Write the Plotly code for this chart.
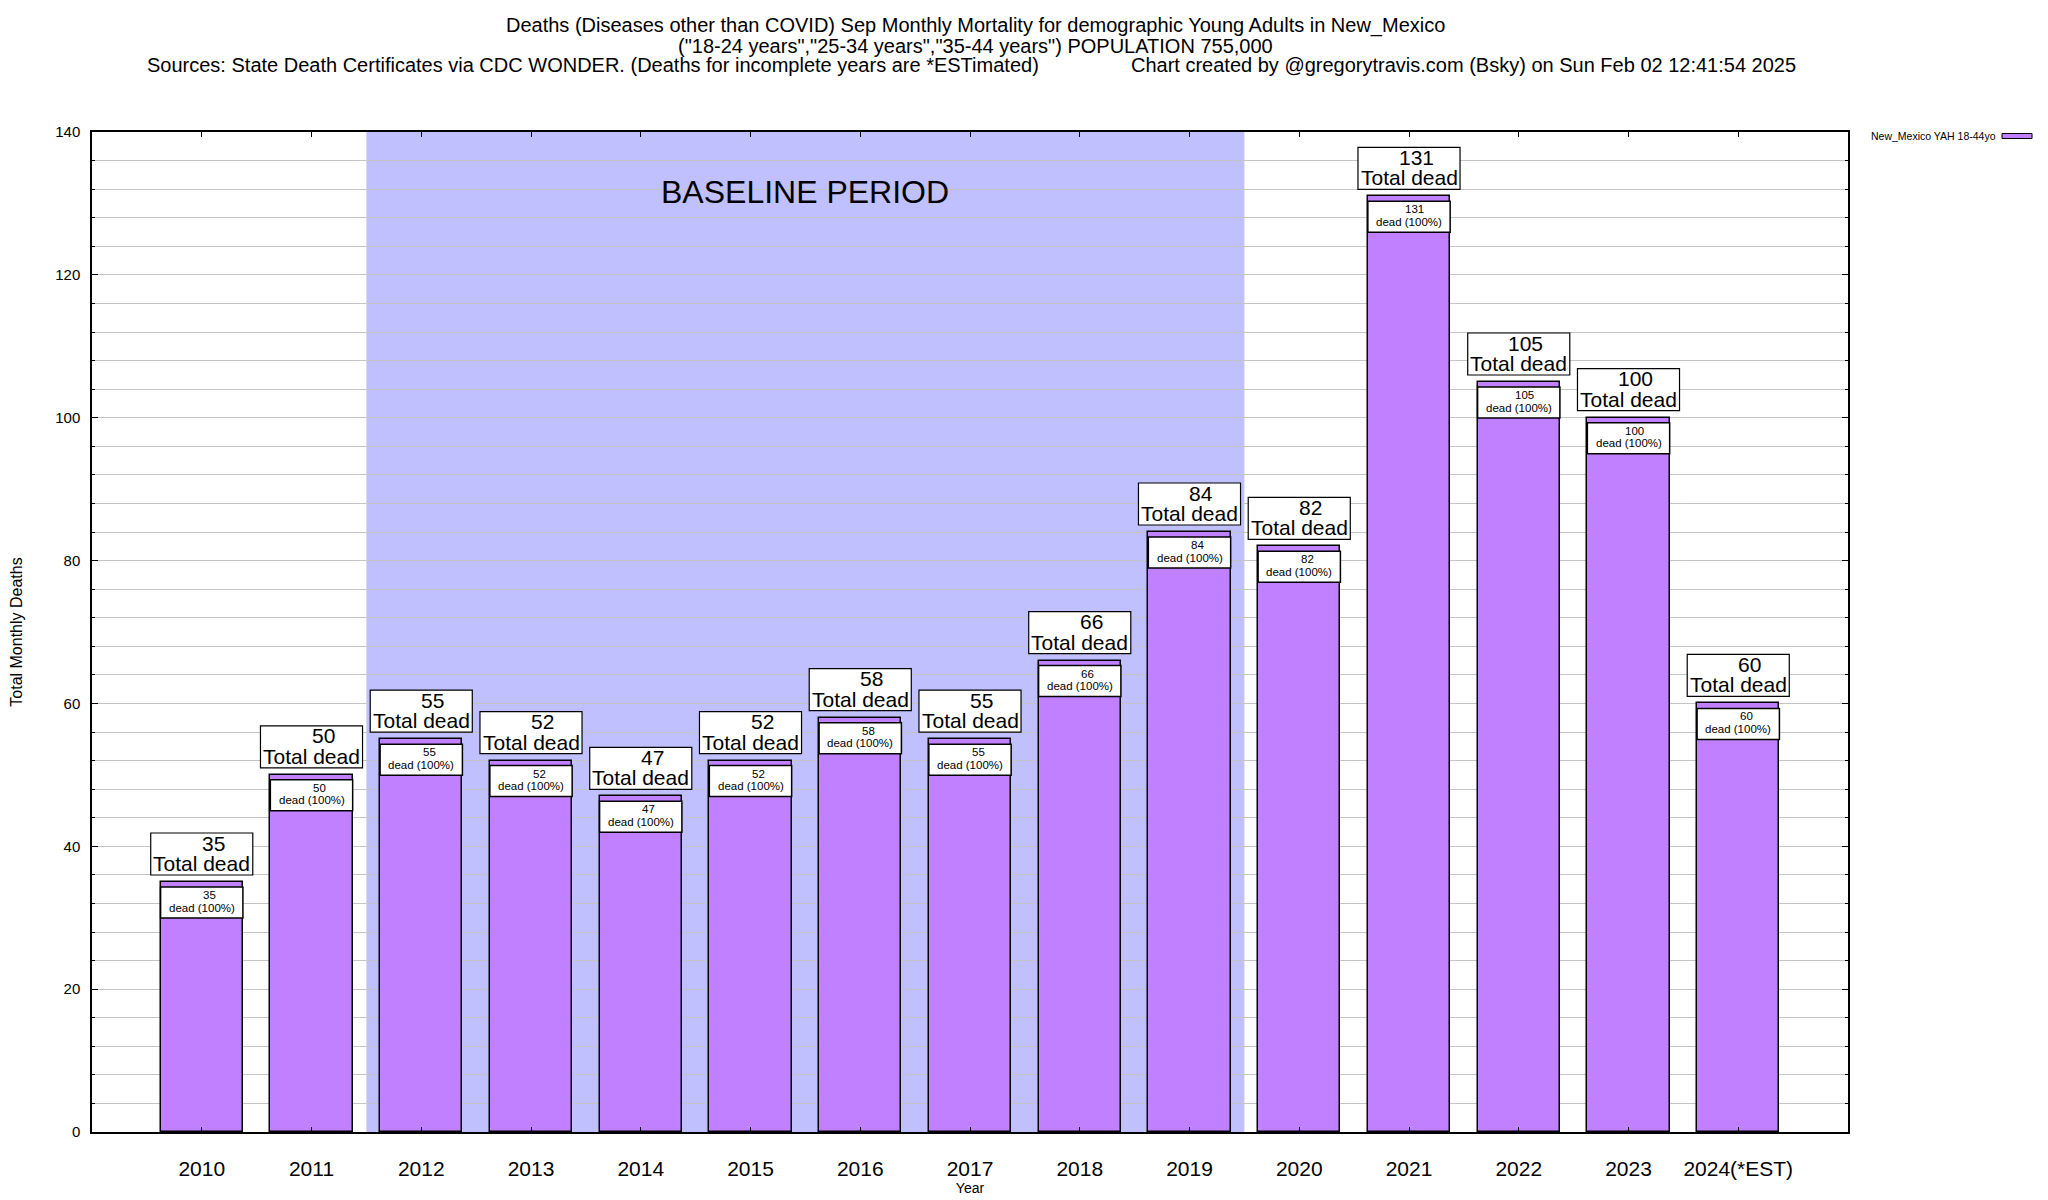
import plotly.graph_objects as go

# ---------------- data ----------------
years = [2010, 2011, 2012, 2013, 2014, 2015, 2016, 2017, 2018, 2019, 2020, 2021, 2022, 2023, 2024]
year_labels = ["2010", "2011", "2012", "2013", "2014", "2015", "2016", "2017", "2018", "2019",
               "2020", "2021", "2022", "2023", "2024(*EST)"]
deaths = [35, 50, 55, 52, 47, 52, 58, 55, 66, 84, 82, 131, 105, 100, 60]
series_name = "New_Mexico YAH 18-44yo"
baseline_start, baseline_end = 2011.5, 2019.5
y_ticks = [0, 20, 40, 60, 80, 100, 120, 140]

title_lines = [
    "Deaths (Diseases other than COVID) Sep Monthly Mortality for demographic Young Adults in New_Mexico",
    "(\"18-24 years\",\"25-34 years\",\"35-44 years\") POPULATION 755,000",
]
source_left = "Sources: State Death Certificates via CDC WONDER. (Deaths for incomplete years are *ESTimated)"
source_right = "Chart created by @gregorytravis.com (Bsky) on Sun Feb 02 12:41:54 2025"

# ---------------- style ----------------
FONT = "Liberation Sans, Arial, Helvetica, sans-serif"
BAR_COLOR = "#c080ff"
BASE_COLOR = "#c0c0ff"
GRID = "#c4c4c4"
BAR_W = 0.75

fig = go.Figure()
fig.add_trace(go.Bar(
    x=years, y=deaths, width=BAR_W, name=series_name,
    marker=dict(color=BAR_COLOR, line=dict(color="black", width=1.5)),
    showlegend=False, hoverinfo="x+y",
))

shapes = []
annotations = []

# baseline shading
shapes.append(dict(type="rect", xref="x", yref="paper", x0=baseline_start, x1=baseline_end,
                   y0=0, y1=1, fillcolor=BASE_COLOR, line=dict(width=0), layer="below"))
annotations.append(dict(text="BASELINE PERIOD", x=(baseline_start + baseline_end) / 2, y=131.6,
                        xref="x", yref="y", showarrow=False, font=dict(size=32, color="black", family=FONT)))

for yr, v in zip(years, deaths):
    pct = round(100 * v / v)
    nd = len(str(v))
    # big "Total dead" box above bar
    shapes.append(dict(type="rect", xref="x", yref="y", x0=yr - 0.465, x1=yr + 0.465,
                       ysizemode="pixel", yanchor=v, y0=7, y1=49,
                       fillcolor="white", line=dict(color="black", width=1.2), layer="above"))
    annotations.append(dict(text=str(v), x=yr, y=v, xref="x", yref="y", yanchor="middle",
                            yshift=39, xshift=7 + (3 - nd) * 4.5, showarrow=False,
                            font=dict(size=21, color="black", family=FONT)))
    annotations.append(dict(text="Total dead", x=yr, y=v, xref="x", yref="y", yanchor="middle",
                            yshift=18.5, showarrow=False, font=dict(size=21, color="black", family=FONT)))
    # small box inside bar
    shapes.append(dict(type="rect", xref="x", yref="y", x0=yr - BAR_W / 2, x1=yr + BAR_W / 2,
                       ysizemode="pixel", yanchor=v, y0=-5, y1=-36,
                       fillcolor="white", line=dict(color="black", width=1.5), layer="above"))
    annotations.append(dict(text=str(v), x=yr, y=v, xref="x", yref="y", yanchor="middle",
                            yshift=-13, xshift=5.5 + (3 - nd) * 2.5, showarrow=False,
                            font=dict(size=11.5, color="black", family=FONT)))
    annotations.append(dict(text=f"dead ({pct}%)", x=yr, y=v, xref="x", yref="y", yanchor="middle",
                            yshift=-25.5, showarrow=False, font=dict(size=11.5, color="black", family=FONT)))

# titles
annotations.append(dict(text=title_lines[0], x=0.503, y=1.106, xref="paper", yref="paper",
                        xanchor="center", yanchor="middle", showarrow=False,
                        font=dict(size=20, color="black", family=FONT)))
annotations.append(dict(text=title_lines[1], x=0.503, y=1.086, xref="paper", yref="paper",
                        xanchor="center", yanchor="middle", showarrow=False,
                        font=dict(size=20, color="black", family=FONT)))
annotations.append(dict(text=source_left, x=0.5404, y=1.0675, xref="paper", yref="paper",
                        xanchor="right", yanchor="middle", showarrow=False,
                        font=dict(size=20, color="black", family=FONT)))
annotations.append(dict(text=source_right, x=0.5905, y=1.0675, xref="paper", yref="paper",
                        xanchor="left", yanchor="middle", showarrow=False,
                        font=dict(size=20, color="black", family=FONT)))

# legend (text left of swatch)
annotations.append(dict(text=series_name, x=1.0854, y=0.996, xref="paper", yref="paper",
                        xanchor="right", yanchor="middle", showarrow=False,
                        font=dict(size=10.5, color="black", family=FONT)))
shapes.append(dict(type="rect", xref="paper", yref="paper", x0=1.0877, x1=1.1048,
                   y0=0.9935, y1=0.9985, fillcolor=BAR_COLOR, line=dict(color="black", width=1)))

# the page adds an 8px body margin, so the figure is 8px smaller and margins compensate
fig.update_layout(
    width=2040, height=1192,
    margin=dict(l=84, r=200, t=124, b=68, autoexpand=False),
    paper_bgcolor="white", plot_bgcolor="white",
    font=dict(family=FONT, color="black"),
    shapes=shapes, annotations=annotations,
    showlegend=False, bargap=0,
)
fig.update_xaxes(
    range=[2009, 2025], tickvals=years, ticktext=year_labels,
    tickfont=dict(size=21, color="black", family=FONT),
    ticks="inside", ticklen=5, tickcolor="black", mirror="ticks",
    showline=True, linecolor="black", linewidth=1.5, showgrid=False, zeroline=False,
    ticklabelstandoff=17,
    title=dict(text="Year", font=dict(size=14, color="black", family=FONT), standoff=0),
)
fig.update_yaxes(
    range=[0, 140], tickvals=y_ticks,
    tickfont=dict(size=15, color="black", family=FONT),
    ticks="inside", ticklen=6, tickcolor="black", mirror="ticks",
    showline=True, linecolor="black", linewidth=1.5,
    showgrid=True, gridcolor=GRID, gridwidth=1, zeroline=False,
    minor=dict(dtick=4, showgrid=True, gridcolor=GRID, gridwidth=1, ticks="inside", ticklen=3, tickcolor="black"),
    ticklabelstandoff=7,
    title=dict(text="Total Monthly Deaths", font=dict(size=16, color="black", family=FONT), standoff=30),
)

fig.write_html("out.html")
